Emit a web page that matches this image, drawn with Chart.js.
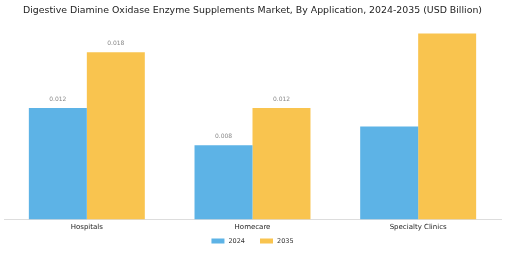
<!DOCTYPE html>
<html>
<head>
<meta charset="utf-8">
<script src="https://cdn.jsdelivr.net/npm/chart.js@4/dist/chart.umd.min.js"></script>
<style>
  html, body { margin: 0; padding: 0; background: #ffffff; }
  #wrap { width: 505px; height: 253px; position: relative; }
</style>
</head>
<body>
<div id="wrap"><canvas id="chart"></canvas></div>
<script>
// Market size by application, USD billion
const categories = ['Hospitals', 'Homecare', 'Specialty Clinics'];
const values2024 = [0.012, 0.008, 0.010];
const values2035 = [0.018, 0.012, 0.020];
// Value labels printed above bars (null = no label shown)
const labels2024 = ['0.012', '0.008', null];
const labels2035 = ['0.018', '0.012', null];

const FONT = '"DejaVu Sans", sans-serif';

// Draws the small grey value text above each bar that has a label
const valueLabels = {
  id: 'valueLabels',
  afterDatasetsDraw(chart) {
    const ctx = chart.ctx;
    ctx.save();
    ctx.font = '6px ' + FONT;
    ctx.fillStyle = '#888888';
    ctx.textAlign = 'center';
    ctx.textBaseline = 'middle';
    chart.data.datasets.forEach((ds, di) => {
      const meta = chart.getDatasetMeta(di);
      meta.data.forEach((bar, i) => {
        const txt = ds.valueLabels[i];
        if (txt) ctx.fillText(txt, bar.x, bar.y - 8.5);
      });
    });
    ctx.restore();
  }
};

// Compact legend row under the axis, built from the dataset labels and colours
const bottomLegend = {
  id: 'bottomLegend',
  afterDraw(chart) {
    const ctx = chart.ctx;
    const boxW = 13, boxH = 5, textGap = 4, itemGap = 15;
    const y = 241;
    ctx.save();
    ctx.font = '6.5px ' + FONT;
    ctx.textBaseline = 'middle';
    ctx.textAlign = 'left';
    const items = chart.data.datasets.map(ds => ({
      text: ds.label, color: ds.backgroundColor,
      w: boxW + textGap + ctx.measureText(ds.label).width
    }));
    const total = items.reduce((s, it) => s + it.w, 0) + itemGap * (items.length - 1);
    let x = (chart.width - total) / 2;
    items.forEach(it => {
      ctx.fillStyle = it.color;
      ctx.fillRect(x, y - boxH / 2, boxW, boxH);
      ctx.fillStyle = '#333333';
      ctx.fillText(it.text, x + boxW + textGap, y);
      x += it.w + itemGap;
    });
    ctx.restore();
  }
};

new Chart(document.getElementById('chart'), {
  type: 'bar',
  data: {
    labels: categories,
    datasets: [
      { label: '2024', data: values2024, valueLabels: labels2024,
        backgroundColor: '#5DB3E6', categoryPercentage: 0.7, barPercentage: 1.0 },
      { label: '2035', data: values2035, valueLabels: labels2035,
        backgroundColor: '#F9C44F', categoryPercentage: 0.7, barPercentage: 1.0 }
    ]
  },
  options: {
    responsive: true,
    maintainAspectRatio: false,
    animation: false,
    layout: { padding: { left: 4, right: 4, top: 0, bottom: 19 } },
    plugins: {
      title: {
        display: true,
        text: 'Digestive Diamine Oxidase Enzyme Supplements Market, By Application, 2024-2035 (USD Billion)',
        color: '#222222',
        font: { family: FONT, size: 9.4, weight: 'normal' },
        padding: { top: 5, bottom: 8 }
      },
      legend: { display: false },
      tooltip: { enabled: false }
    },
    scales: {
      x: {
        grid: { display: false, drawTicks: false },
        border: { display: true, color: '#dddddd' },
        ticks: { color: '#222222', font: { family: FONT, size: 7 }, padding: 3 }
      },
      y: {
        display: false,
        min: 0,
        max: 0.021
      }
    }
  },
  plugins: [valueLabels, bottomLegend]
});
</script>
</body>
</html>
